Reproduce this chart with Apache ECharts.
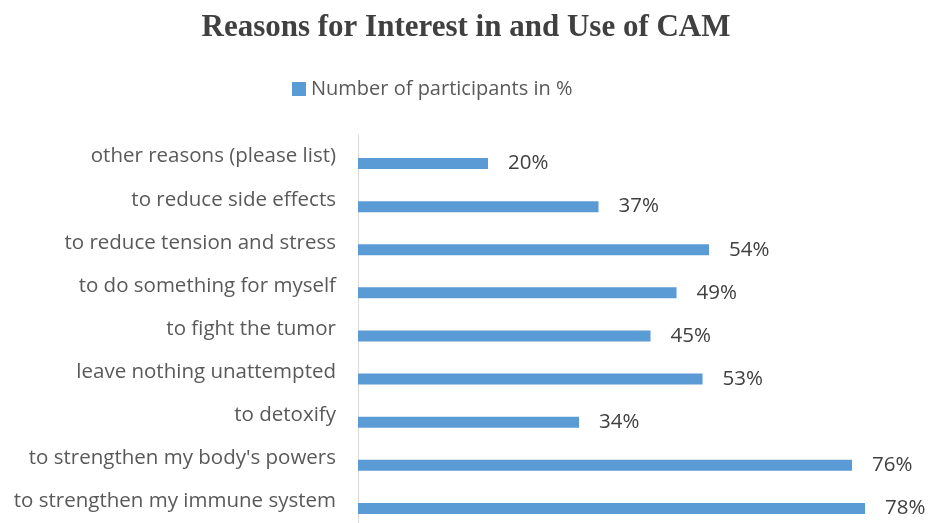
<!DOCTYPE html>
<html>
<head>
<meta charset="utf-8">
<script src="https://cdn.jsdelivr.net/npm/echarts@6/dist/echarts.min.js"></script>
<style>
html,body{margin:0;padding:0;background:#fff;}
#chart{width:932px;height:523px;}
</style>
</head>
<body>
<div id="chart"></div>
<script>
// Categories listed bottom to top
var categories = [
  "to strengthen my immune system",
  "to strengthen my body's powers",
  "to detoxify",
  "leave nothing unattempted",
  "to fight the tumor",
  "to do something for myself",
  "to reduce tension and stress",
  "to reduce side effects",
  "other reasons (please list)"
];
var participantsPct = [78, 76, 34, 53, 45, 49, 54, 37, 20];
var spacer = [0, 0, 0, 0, 0, 0, 0, 0, 0];
var seriesName = "Number of participants in %";
var titleText = "Reasons for Interest in and Use of CAM";

var chart = echarts.init(document.getElementById('chart'), null, {renderer: 'canvas'});
chart.setOption({
  animation: false,
  backgroundColor: '#ffffff',
  title: {
    text: titleText,
    left: 'center',
    top: 7,
    textStyle: {
      fontFamily: 'Liberation Serif',
      fontWeight: 'bold',
      fontSize: 31,
      color: '#404040'
    }
  },
  legend: {
    data: [seriesName],
    left: 287,
    top: 74,
    itemWidth: 14,
    itemHeight: 14,
    itemGap: 4,
    icon: 'rect',
    textStyle: {
      fontFamily: 'Open Sans',
      fontSize: 20,
      color: '#595959'
    }
  },
  grid: {
    left: 358,
    right: 0,
    top: 135,
    bottom: -4,
    containLabel: false
  },
  xAxis: {
    type: 'value',
    min: 0,
    max: 88.3,
    show: false
  },
  yAxis: {
    type: 'category',
    data: categories,
    axisLine: {show: true, lineStyle: {color: '#d9d9d9', width: 1}},
    axisTick: {show: false},
    splitLine: {show: false},
    axisLabel: {
      margin: 22,
      fontFamily: 'Open Sans',
      fontSize: 20.5,
      color: '#595959'
    }
  },
  series: [
    {
      name: 'spacer',
      type: 'bar',
      data: spacer,
      barWidth: 11,
      barGap: '27%',
      silent: true,
      itemStyle: {color: 'rgba(0,0,0,0)'}
    },
    {
      name: seriesName,
      type: 'bar',
      data: participantsPct,
      barWidth: 11,
      barGap: '27%',
      itemStyle: {color: '#5b9bd5'},
      label: {
        show: true,
        position: 'right',
        distance: 20,
        formatter: '{c}%',
        fontFamily: 'Open Sans',
        fontSize: 20.5,
        color: '#404040'
      }
    }
  ]
});
</script>
</body>
</html>
